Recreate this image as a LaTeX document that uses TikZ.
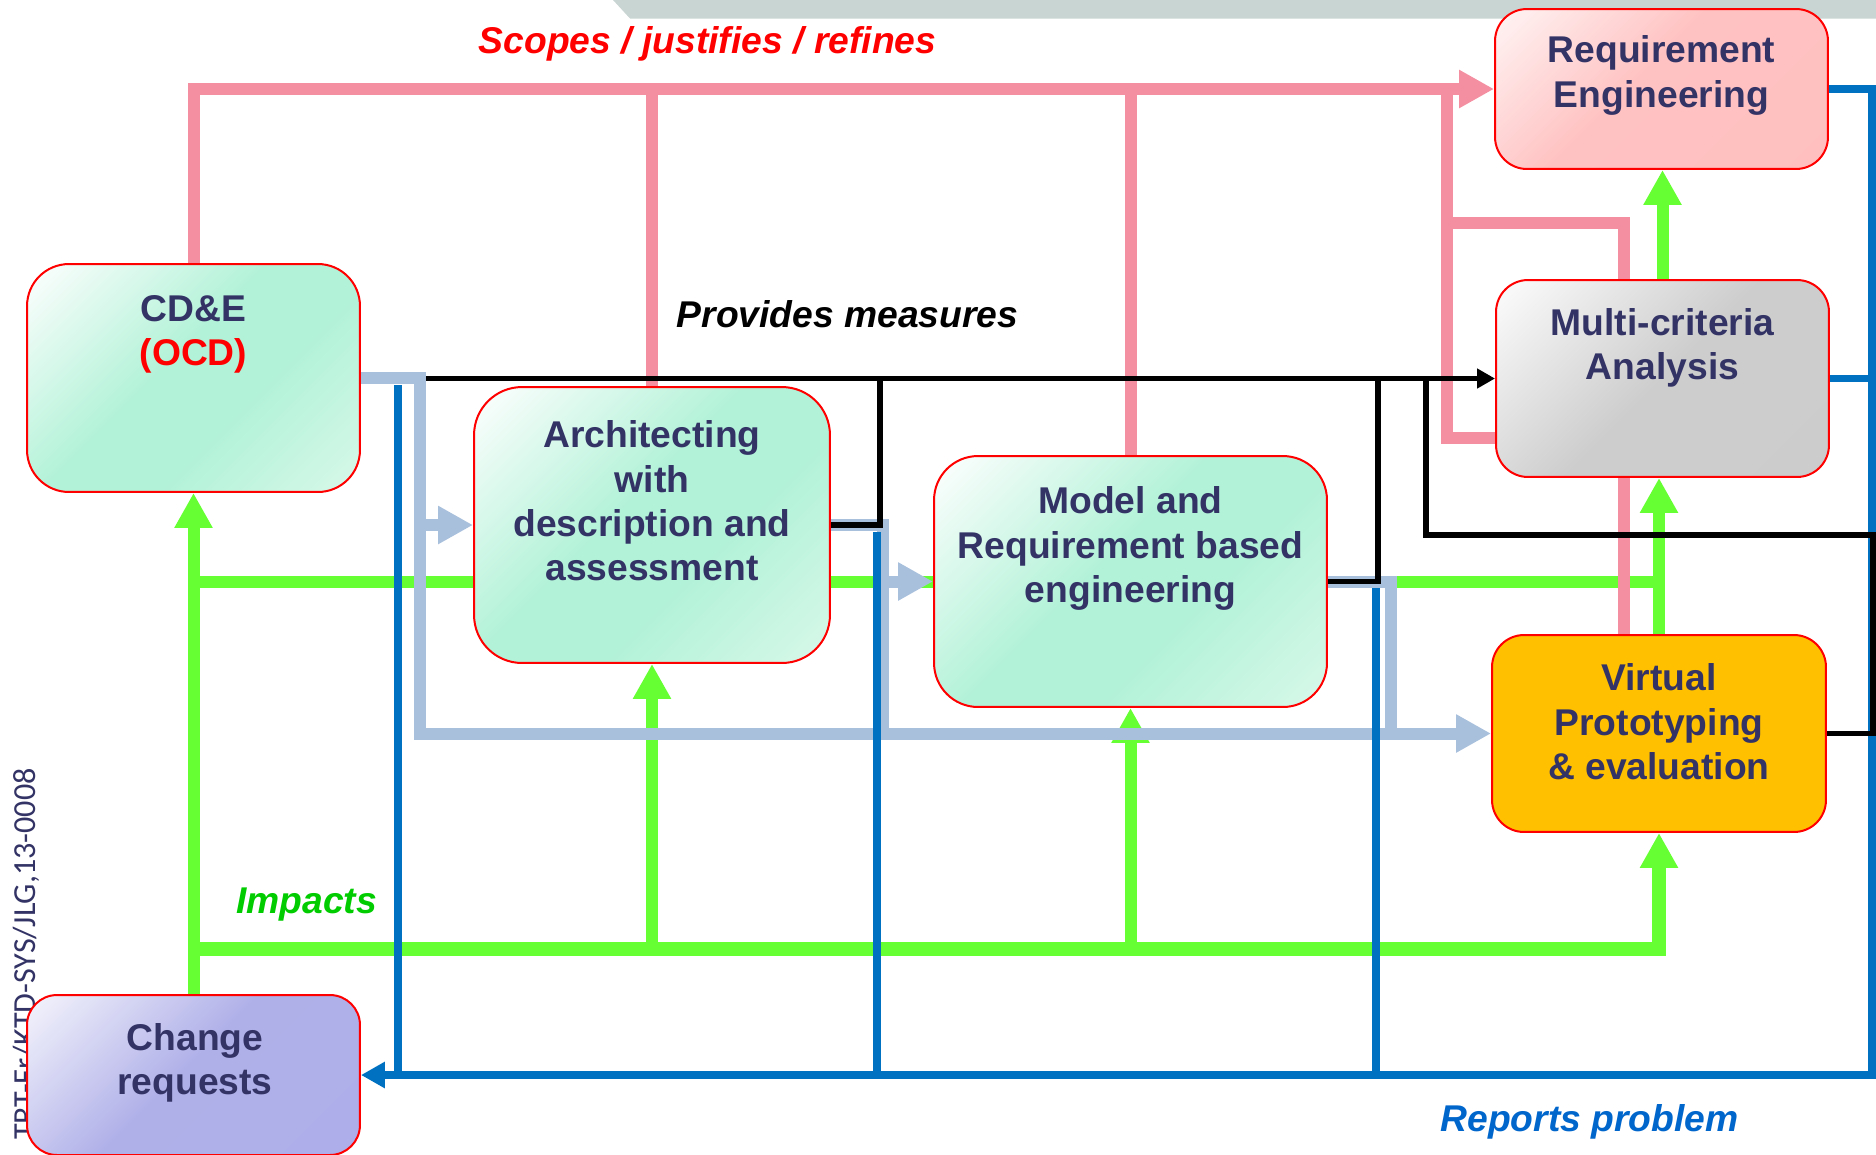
\documentclass[tikz,border=0pt]{standalone}
\usepackage{fontspec}
\setmainfont{Liberation Sans}
\newfontfamily\refidfont{Carlito}
\usetikzlibrary{arrows.meta}
\pgfdeclarelayer{back}
\pgfsetlayers{back,main}

\definecolor{lgreen}{RGB}{102,255,51}
\definecolor{lpink}{RGB}{244,143,161}
\definecolor{lblue}{RGB}{169,192,220}
\definecolor{dblue}{RGB}{0,112,192}
\definecolor{navy}{RGB}{51,51,102}
\definecolor{bannergrey}{RGB}{201,213,211}
\definecolor{impgreen}{RGB}{0,204,0}
\definecolor{repblue}{RGB}{0,102,204}
\definecolor{vpgold}{RGB}{255,192,0}
\definecolor{gtop}{RGB}{246,253,250}
\definecolor{gmid}{RGB}{178,242,216}
\definecolor{gbot}{RGB}{216,248,234}
\definecolor{ptop}{RGB}{255,244,244}
\definecolor{pmid}{RGB}{255,194,194}
\definecolor{pbot}{RGB}{255,190,190}
\definecolor{mtop}{RGB}{248,248,248}
\definecolor{mmid}{RGB}{205,205,205}
\definecolor{mbot}{RGB}{204,204,204}
\definecolor{ltop}{RGB}{244,244,252}
\definecolor{lmid}{RGB}{176,176,233}
\definecolor{lbot}{RGB}{173,173,234}

% diagonal fills of the boxes (rotated so that 0bp sits at the upper-left corner)
\pgfdeclarehorizontalshading{greenbox}{100bp}{color(0bp)=(gtop); color(18bp)=(gtop); color(45bp)=(gmid); color(60bp)=(gmid); color(85bp)=(gbot); color(100bp)=(gbot)}
\pgfdeclarehorizontalshading{pinkbox}{100bp}{color(0bp)=(ptop); color(15bp)=(ptop); color(45bp)=(pmid); color(100bp)=(pbot)}
\pgfdeclarehorizontalshading{greybox}{100bp}{color(0bp)=(mtop); color(18bp)=(mtop); color(50bp)=(mmid); color(100bp)=(mbot)}
\pgfdeclarehorizontalshading{lilacbox}{100bp}{color(0bp)=(ltop); color(15bp)=(ltop); color(48bp)=(lmid); color(100bp)=(lbot)}

\begin{document}
\begin{tikzpicture}[x=0.02cm,y=-0.02cm,
  box/.style={draw=red, line width=0.04cm, inner sep=0pt, rectangle},
  greenshade/.style={shade, shading=greenbox, shading angle=-45},
  pinkshade/.style={shade, shading=pinkbox, shading angle=-45},
  greyshade/.style={shade, shading=greybox, shading angle=-45},
  lilacshade/.style={shade, shading=lilacbox, shading angle=-45},
  btxt/.style={text=navy, font=\fontsize{21.2pt}{25.2pt}\selectfont\bfseries, align=center, inner sep=0pt},
  lab/.style={font=\fontsize{21.2pt}{25.2pt}\selectfont\bfseries\itshape, inner sep=0pt, anchor=base},
  grn/.style={draw=lgreen, line width=0.24cm},
  pnk/.style={draw=lpink, line width=0.24cm},
  lbl/.style={draw=lblue, line width=0.24cm},
  blu/.style={draw=dblue, line width=0.15cm},
  blk/.style={draw=black, line width=0.11cm},
  tipG/.style={-{Triangle[length=0.7cm,width=0.72cm]}},
  tipB/.style={-{Triangle[length=0.48cm,width=0.5cm]}},
  tipK/.style={-{Triangle[length=0.36cm,width=0.38cm]}}
]
\useasboundingbox (0,0) rectangle (1876,1154);
\clip (0,0) rectangle (1876,1154);

% process boxes
\node[box, greenshade, minimum width=6.66cm, minimum height=4.56cm, rounded corners=0.84cm] (cde) at (193.5,378) {};
\node[box, greenshade, minimum width=7.12cm, minimum height=5.52cm, rounded corners=0.96cm] (arch) at (652,525) {};
\node[box, greenshade, minimum width=7.86cm, minimum height=5.02cm, rounded corners=0.88cm] (model) at (1130.5,581.5) {};
\node[box, pinkshade, minimum width=6.66cm, minimum height=3.2cm, rounded corners=0.64cm] (req) at (1661.5,89) {};
\node[box, greyshade, minimum width=6.66cm, minimum height=3.94cm, rounded corners=0.64cm] (multi) at (1662.5,378.5) {};
\node[box, fill=vpgold, minimum width=6.68cm, minimum height=3.94cm, rounded corners=0.64cm] (virt) at (1659,733.5) {};
\node[box, lilacshade, minimum width=6.66cm, minimum height=3.2cm, rounded corners=0.6cm] (chg) at (193.5,1075) {};

% box captions
\node[btxt] (cdeT) at (193.5,334.5) {CD\&E\\\textcolor{red}{(OCD)}};
\node[btxt] (archT) at (652,501) {Architecting\\with\\description and\\assessment};
\node[btxt] (modelT) at (1130.5,548.5) {Model and\\Requirement based\\engineering};
\node[btxt] (reqT) at (1661.5,75.5) {Requirement\\Engineering};
\node[btxt] (multiT) at (1662.5,347.5) {Multi-criteria\\Analysis};
\node[btxt] (virtT) at (1659,721.7) {Virtual\\Prototyping\\\& evaluation};
\node[btxt] (chgT) at (195,1062.5) {Change\\requests};

% flow labels
\node[lab, text=red] (scopes) at (707.5,53) {Scopes / justifies / refines};
\node[lab, text=black] (measures) at (847.5,327) {Provides measures};
\node[lab, text=impgreen] (impacts) at (306.5,913) {Impacts};
\node[lab, text=repblue] (reports) at (1589.5,1131) {Reports problem};

\begin{pgfonlayer}{back}
  % header band and reference id
  \fill[bannergrey] (613,0) -- (630,18.5) -- (1876,18.5) -- (1876,0) -- cycle;
  \node[rotate=90, anchor=base, text=navy, inner sep=0pt,
        font=\refidfont\fontsize{18.3pt}{20pt}\selectfont] (refid) at (35,954) {TRT-Fr/KTD-SYS/JLG,13-0008};

  % impacts (green)
  \coordinate (gA) at (193.5,582);
  \coordinate (gB) at (193.5,949);
  \draw[grn, tipG] (chg.north) -- (cde.south);
  \draw[grn] (gA) -- (gA -| virt.north);
  \draw[grn, tipG] (virt.north) -- (virt.north |- multi.south);
  \draw[grn, tipG] (multi.north) -- (multi.north |- req.south);
  \draw[grn, line width=0.28cm, tipG] (gB) -| (virt.south);
  \draw[grn, tipG] (arch.south |- gB) -- (arch.south);
  \draw[grn, tipG] (model.south |- gB) -- (model.south);

  % scopes / justifies / refines (pink)
  \coordinate (pA) at (1447,438);
  \coordinate (pB) at (1624,223);
  \draw[pnk, tipG] (cde.north) |- (req.west);
  \draw[pnk] (arch.north) -- (arch.north |- req.west);
  \draw[pnk] (model.north) -- (model.north |- req.west);
  \draw[pnk] (multi.west |- pA) -- (pA) -- (pA |- req.west);
  \draw[pnk] (virt.north -| pB) -- (pB) -- (pA |- pB);

  % refinement flow (light blue)
  \coordinate (lA) at (420,378);
  \coordinate (lB) at (883,525);
  \coordinate (lC) at (1391,581.5);
  \draw[lbl, tipG] (cde.east) -- (lA) |- (virt.west);
  \draw[lbl, tipG] (lA |- arch.west) -- (arch.west);
  \draw[lbl] (arch.east) -- (lB) -- (lB |- virt.west);
  \draw[lbl, tipG] (lB |- model.west) -- (model.west);
  \draw[lbl] (model.east) -- (lC) -- (lC |- virt.west);

  % reports problem (blue)
  \coordinate (bR) at (1872,89);
  \coordinate (bA) at (398,385);
  \coordinate (bB) at (877,532);
  \coordinate (bC) at (1376,588);
  \draw[blu, tipB] (req.east) -- (bR) |- (chg.east);
  \draw[blu] (multi.east) -- (multi.east -| bR);
  \draw[blu] (bA) -- (bA |- chg.east);
  \draw[blu] (bB) -- (bB |- chg.east);
  \draw[blu] (bC) -- (bC |- chg.east);

  % provides measures (black)
  \coordinate (kA) at (426,378.5);
  \coordinate (kB) at (880,525);
  \coordinate (kC) at (1378,581.5);
  \coordinate (kD) at (1873,535);
  \coordinate (kE) at (1426,535);
  \draw[blk, tipK] (kA) -- (multi.west);
  \draw[blk] (arch.east) -- (kB) -- (kB |- kA);
  \draw[blk] (model.east) -- (kC) -- (kC |- kA);
  \draw[blk] (virt.east) -| (kD) -- (kE) -- (kE |- kA);
\end{pgfonlayer}
\end{tikzpicture}
\end{document}
